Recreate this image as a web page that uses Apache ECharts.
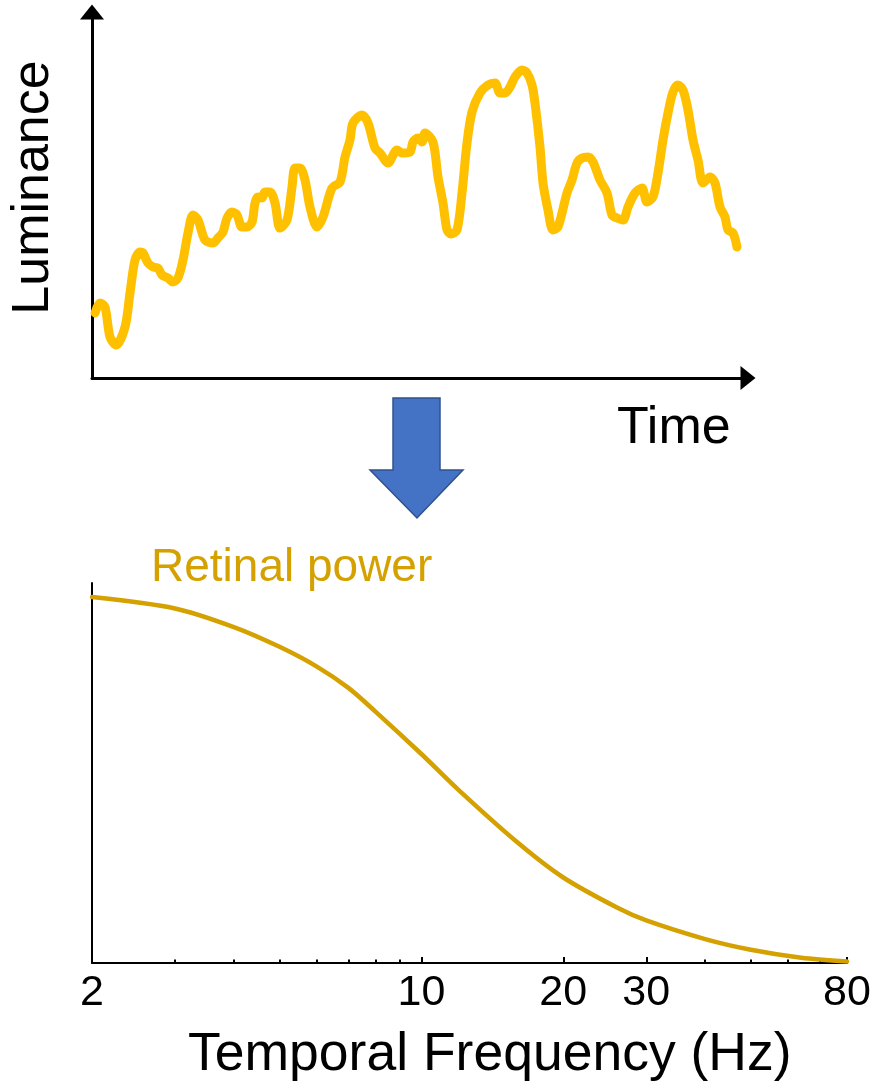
<!DOCTYPE html>
<html>
<head>
<meta charset="utf-8">
<script src="https://cdn.jsdelivr.net/npm/echarts@6/dist/echarts.min.js"></script>
<style>html,body{margin:0;padding:0;background:#fff}#c{width:884px;height:1081px}</style>
</head>
<body>
<div id="c"></div>
<script>
// Top panel: luminance over time (arbitrary units)
var timeValues = [
  3,8,13,18,24,33,38,43,48,51,
  56,61,66,70,76,81,86,91,96,101,
  106,113,121,126,131,135,140,145,150,155,
  160,163,166,170,173,178,183,188,195,200,
  203,208,213,218,225,231,240,248,253,258,
  261,270,276,283,288,296,305,310,318,321,
  326,330,333,341,346,351,355,359,365,370,
  375,380,388,396,403,408,413,418,423,430,
  435,440,443,448,451,456,461,466,475,480,
  485,490,496,501,508,515,520,525,531,536,
  543,550,555,561,566,571,576,581,586,591,
  596,601,606,611,618,623,628,633,636,641,
  645
];
var luminanceValues = [
  65,75,71,41,33,51,85,118,126,125,
  115,111,110,103,100,96,100,118,145,163,
  158,138,135,140,146,160,166,163,151,151,
  156,175,181,180,186,186,175,150,158,191,
  210,210,198,171,151,161,190,196,221,238,
  255,263,255,230,225,215,228,225,226,236,
  240,236,245,236,201,175,148,144,148,185,
  235,266,285,293,295,285,285,291,301,308,
  305,293,275,231,195,168,148,151,185,198,
  215,220,221,216,198,185,163,160,158,171,
  185,190,176,181,205,238,265,286,293,288,
  268,238,218,195,201,195,171,161,148,145,
  131
];
// Bottom panel: retinal power vs temporal frequency
var frequencies = [2,3,4,5,6,7,8,10,12,16,20,26,30,40,50,64,80];
var retinalPower = [96.3,93.3,88.4,83.2,78.0,72.4,66.1,55.0,45.5,31.7,22.5,14.6,11.2,6.3,3.5,1.4,0.4];
var majorTickValues = [10,20,30,80];
var minorTickValues = [3,4,5,6,7,8,9,40,50,60,70];
var tickLabelValues = [2,10,20,30,80];

var lumData = timeValues.map(function(t,i){return [t, luminanceValues[i]];});
var powData = frequencies.map(function(f,i){return [f, retinalPower[i]];});

var FONT = 'Liberation Sans, Arial, sans-serif';
var chart = echarts.init(document.getElementById('c'), null, {renderer:'canvas'});
chart.setOption({
  animation:false,
  backgroundColor:'#ffffff',
  title:[
    {text:'Time', left:612, top:398, textStyle:{fontFamily:FONT, fontSize:52, fontWeight:'normal', color:'#000'}},
    {text:'Retinal power', left:146, top:540, textStyle:{fontFamily:FONT, fontSize:46, fontWeight:'normal', color:'#D4A100'}},
    {text:'Temporal Frequency (Hz)', left:183, top:1023, textStyle:{fontFamily:FONT, fontSize:53.5, fontWeight:'normal', color:'#000'}}
  ],
  grid:[
    {left:92, right:136, top:12, bottom:703, outerBoundsMode:'none', containLabel:false},
    {left:92, right:37, top:583, bottom:118, outerBoundsMode:'none', containLabel:false}
  ],
  xAxis:[
    {gridIndex:0, type:'value', min:0, max:656,
     axisLine:{show:true, onZero:false, symbol:['none','triangle'], symbolSize:[24,15], lineStyle:{color:'#000', width:3}},
     axisTick:{show:false}, axisLabel:{show:false}, splitLine:{show:false}},
    {gridIndex:1, type:'log', logBase:10, min:2, max:80, position:'bottom',
     axisLine:{show:true, onZero:false, lineStyle:{color:'#000', width:2}},
     axisTick:{show:true, inside:true, length:6, customValues:majorTickValues, lineStyle:{color:'#000', width:2}},
     axisLabel:{show:true, customValues:tickLabelValues, margin:9, fontFamily:FONT, fontSize:43, color:'#000'},
     splitLine:{show:false}, minorTick:{show:false}},
    {gridIndex:1, type:'log', logBase:10, min:2, max:80, position:'bottom',
     axisLine:{show:false},
     axisTick:{show:true, inside:true, length:3.5, customValues:minorTickValues, lineStyle:{color:'#000', width:2}},
     axisLabel:{show:false}, splitLine:{show:false}}
  ],
  yAxis:[
    {gridIndex:0, type:'value', min:0, max:366,
     axisLine:{show:true, onZero:false, symbol:['none','triangle'], symbolSize:[24,15], lineStyle:{color:'#000', width:3}},
     axisTick:{show:false}, axisLabel:{show:false}, splitLine:{show:false}},
    {gridIndex:1, type:'value', min:0, max:100,
     axisLine:{show:true, onZero:false, lineStyle:{color:'#000', width:2}},
     axisTick:{show:false}, axisLabel:{show:false}, splitLine:{show:false}}
  ],
  series:[
    {type:'line', xAxisIndex:0, yAxisIndex:0, data:lumData, smooth:0.3, symbol:'none',
     lineStyle:{color:'#FFC000', width:9, cap:'round', join:'round'}},
    {type:'line', xAxisIndex:1, yAxisIndex:1, data:powData, smooth:0.3, symbol:'none',
     lineStyle:{color:'#D4A100', width:4.5, cap:'round'}}
  ],
  graphic:[
    {type:'text', x:33.5, y:187.5, rotation:Math.PI/2,
     style:{text:'Luminance', fontFamily:FONT, fontSize:52, fill:'#000', align:'center', verticalAlign:'middle'}},
    {type:'polygon', shape:{points:[[393,398],[440,398],[440,470],[463,470],[417,518],[370,470],[393,470]]},
     style:{fill:'#4472C4', stroke:'#2F528F', lineWidth:1.5}}
  ]
});
</script>
</body>
</html>
